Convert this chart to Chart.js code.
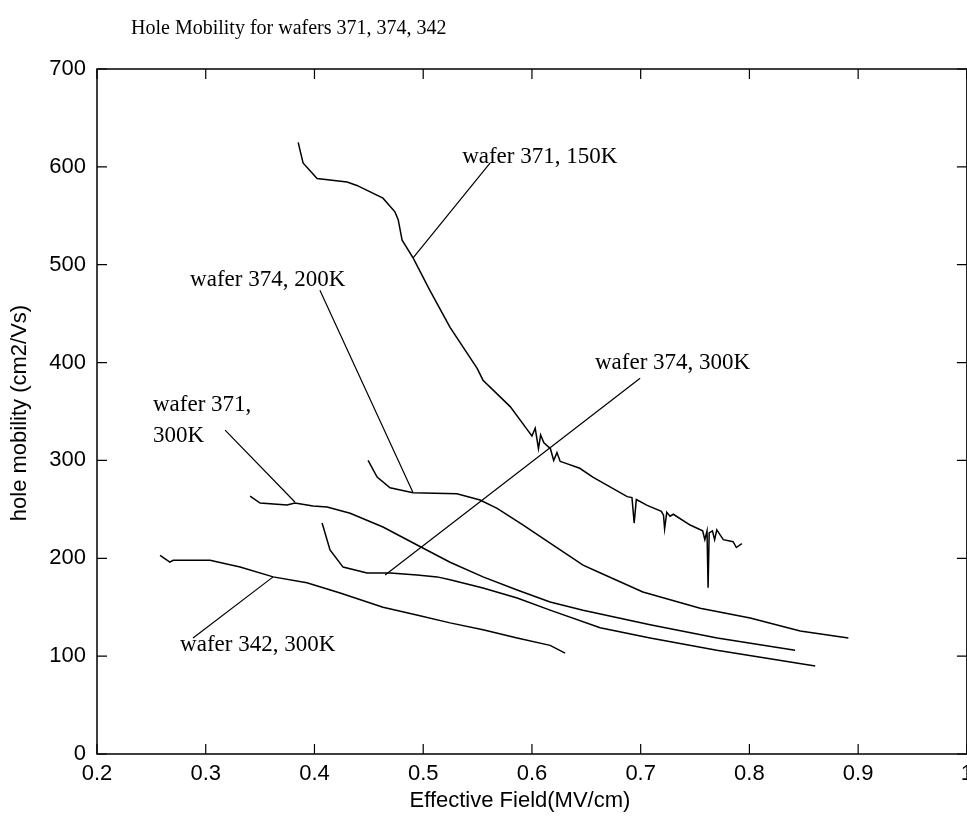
<!DOCTYPE html>
<html>
<head>
<meta charset="utf-8">
<script src="https://cdn.jsdelivr.net/npm/chart.js@4.4.1/dist/chart.umd.min.js"></script>
<style>
  html, body { margin: 0; padding: 0; background: #fff; overflow: hidden; }
  #wrap { width: 967px; height: 827px; overflow: hidden; position: relative; }
  canvas { display: block; }
</style>
</head>
<body>
<div id="wrap"><canvas id="c" width="980" height="827"></canvas></div>
<script>
// ---------------- data ----------------
const xTicks = [0.2, 0.3, 0.4, 0.5, 0.6, 0.7, 0.8, 0.9, 1.0];
const yTicks = [0, 100, 200, 300, 400, 500, 600, 700];

// wafer 371, 150K
const w371_150K_x = [0.385,0.3895,0.4024,0.430,0.439,0.463,0.474,0.477,0.4806,0.4907,0.506,0.5247,0.5496,0.555,0.580,0.596,0.600,0.603,0.606,0.608,0.611,0.617,0.620,0.623,0.626,0.6287,0.644,0.656,0.6876,0.692,0.694,0.696,0.706,0.719,0.721,0.722,0.724,0.727,0.730,0.7455,0.757,0.759,0.761,0.762,0.763,0.766,0.768,0.770,0.776,0.785,0.788,0.793];
const w371_150K_y = [625,604,588,584.5,581,568,554,546,525,507,474,436,394,382,355,331,325,333,312,326,318,312,300,308,299,298,292,283,263,262,236,260,254,248,244,230,247,243,245,234,228,219,228,170,226,228,219,229,219,217,211,215];

// wafer 374, 200K
const w374_200K_x = [0.4493,0.4576,0.4695,0.4907,0.531,0.5523,0.568,0.592,0.6167,0.647,0.663,0.702,0.7547,0.8007,0.8467,0.891];
const w374_200K_y = [300,283,272,267,266,259.5,251,234,215.6,193,185,165.5,149,139,125.7,118.5];

// wafer 371, 300K
const w371_300K_x = [0.3408,0.350,0.3748,0.382,0.3987,0.4116,0.4328,0.463,0.4944,0.5247,0.555,0.5864,0.6167,0.647,0.7087,0.7704,0.842];
const w371_300K_y = [263.6,256.5,254.4,256.5,253.4,252.4,246,232,213.6,196,181,167.6,155.3,147,132,118.5,106];

// wafer 374, 300K
const w374_300K_x = [0.407,0.4143,0.4263,0.4484,0.4696,0.4944,0.5128,0.5247,0.555,0.5864,0.6167,0.6627,0.7087,0.770,0.8605];
const w374_300K_y = [236,208.5,191,185,185,183,181,178,169.6,159.4,147,129,118.5,106,90];

// wafer 342, 300K
const w342_300K_x = [0.258,0.267,0.270,0.304,0.3316,0.362,0.393,0.4236,0.463,0.494,0.5247,0.555,0.5864,0.6167,0.6305];
const w342_300K_y = [203,196,198,198,191,181,175,164.5,150,142,134,127,118.5,111,103];

// annotation labels (data coordinates): text lines, text anchor, leader line start/end
const annoText   = [["wafer 371, 150K"], ["wafer 374, 200K"], ["wafer 374, 300K"], ["wafer 371,", "300K"], ["wafer 342, 300K"]];
const annoTextX  = [0.5358, 0.2856, 0.658, 0.2515, 0.2764];
const annoTextY  = [610, 484, 400, 356.6, 111];
const annoFromX  = [0.5616, 0.405, 0.6995, 0.3178, 0.2883];
const annoFromY  = [604, 474, 384, 331, 118.5];
const annoToX    = [0.4907, 0.4907, 0.465, 0.382, 0.362];
const annoToY    = [507, 267, 183, 257.5, 181];

const titleText = "Hole Mobility for wafers 371, 374, 342";
const xTitle = "Effective Field(MV/cm)";
const yTitle = "hole mobility (cm2/Vs)";

// ---------------- build ----------------
function pts(xs, ys) { return xs.map((x, i) => ({ x: x, y: ys[i] })); }
const series = [
  pts(w371_150K_x, w371_150K_y),
  pts(w374_200K_x, w374_200K_y),
  pts(w371_300K_x, w371_300K_y),
  pts(w374_300K_x, w374_300K_y),
  pts(w342_300K_x, w342_300K_y)
];

const SANS = '"Liberation Sans", Arial, sans-serif';
const SERIF = '"Liberation Serif", "Times New Roman", serif';

const decor = {
  id: 'decor',
  afterDraw(chart) {
    const ctx = chart.ctx, a = chart.chartArea;
    const xs = chart.scales.x, ys = chart.scales.y;
    ctx.save();
    ctx.strokeStyle = '#000';
    ctx.lineWidth = 1.5;
    ctx.strokeRect(a.left, a.top, a.right - a.left, a.bottom - a.top);
    ctx.lineWidth = 1.2;
    ctx.beginPath();
    xTicks.forEach(v => {
      const p = xs.getPixelForValue(v);
      ctx.moveTo(p, a.bottom); ctx.lineTo(p, a.bottom - 10);
      ctx.moveTo(p, a.top); ctx.lineTo(p, a.top + 10);
    });
    yTicks.forEach(v => {
      const p = ys.getPixelForValue(v);
      ctx.moveTo(a.left, p); ctx.lineTo(a.left + 10, p);
      ctx.moveTo(a.right, p); ctx.lineTo(a.right - 10, p);
    });
    ctx.stroke();

    ctx.fillStyle = '#000';
    ctx.font = '20px ' + SERIF;
    ctx.textAlign = 'left';
    ctx.textBaseline = 'middle';
    ctx.fillText(titleText, 131, 29);

    ctx.font = '22px ' + SANS;
    ctx.textAlign = 'center';
    ctx.fillText(xTitle, (xs.getPixelForValue(0.2) + xs.getPixelForValue(1.0)) / 2 - 12, 801);
    ctx.save();
    ctx.translate(20, 413);
    ctx.rotate(-Math.PI / 2);
    ctx.fillText(yTitle, 0, 0);
    ctx.restore();

    ctx.lineWidth = 1.2;
    ctx.beginPath();
    annoText.forEach((t, i) => {
      ctx.moveTo(xs.getPixelForValue(annoFromX[i]), ys.getPixelForValue(annoFromY[i]));
      ctx.lineTo(xs.getPixelForValue(annoToX[i]), ys.getPixelForValue(annoToY[i]));
    });
    ctx.stroke();
    ctx.font = '23px ' + SERIF;
    ctx.textAlign = 'left';
    ctx.textBaseline = 'middle';
    annoText.forEach((lines, i) => {
      const px = xs.getPixelForValue(annoTextX[i]);
      const py = ys.getPixelForValue(annoTextY[i]);
      lines.forEach((ln, k) => ctx.fillText(ln, px, py + k * 31));
    });
    ctx.restore();
  }
};

new Chart(document.getElementById('c'), {
  type: 'line',
  data: {
    datasets: series.map(s => ({
      data: s,
      borderColor: '#000',
      borderWidth: 1.5,
      pointRadius: 0,
      tension: 0,
      fill: false
    }))
  },
  options: {
    responsive: false,
    animation: false,
    devicePixelRatio: 1,
    layout: { padding: { left: 0, top: 69, right: 13, bottom: 0 } },
    plugins: { legend: { display: false }, tooltip: { enabled: false }, title: { display: false } },
    scales: {
      x: {
        type: 'linear', min: 0.2, max: 1.0,
        afterFit(s) { s.height = 73; },
        afterBuildTicks(s) { s.ticks = xTicks.map(v => ({ value: v })); },
        grid: { display: false, drawTicks: false },
        border: { display: false },
        ticks: {
          padding: 7, color: '#000', maxRotation: 0, autoSkip: false,
          font: { family: SANS, size: 22 },
          callback: v => (v === 1 ? '1' : v.toFixed(1))
        }
      },
      y: {
        type: 'linear', min: 0, max: 700,
        afterFit(s) { s.width = 97; },
        afterBuildTicks(s) { s.ticks = yTicks.map(v => ({ value: v })); },
        grid: { display: false, drawTicks: false },
        border: { display: false },
        ticks: {
          padding: 11, color: '#000', autoSkip: false,
          font: { family: SANS, size: 22 },
          callback: v => String(v)
        }
      }
    }
  },
  plugins: [decor]
});
</script>
</body>
</html>
